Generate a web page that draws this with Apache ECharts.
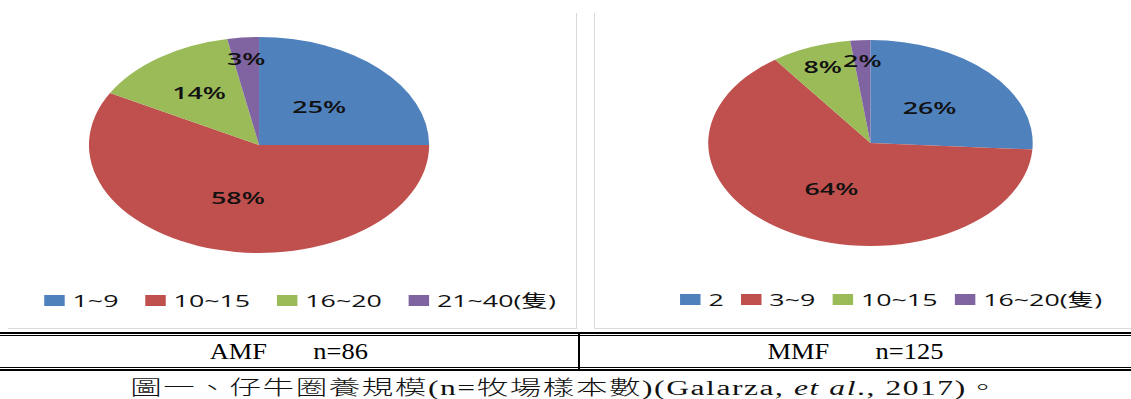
<!DOCTYPE html>
<html>
<head>
<meta charset="utf-8">
<script src="https://cdn.jsdelivr.net/npm/echarts@6/dist/echarts.min.js"></script>
<style>
  html, body { margin: 0; padding: 0; background: #fff; }
  body { width: 1131px; height: 399px; position: relative; overflow: hidden; }
  .panel { position: absolute; top: 13px; height: 315px; border-bottom: 1px solid #d9d9d9; overflow: hidden; }
  #panelL { left: 8px; width: 568px; border-right: 1px solid #d9d9d9; }
  #panelR { left: 594px; width: 545px; border-left: 1px solid #d9d9d9; }
  .chart { position: absolute; left: 0; top: 0; height: 315px; transform-origin: 0 0; }
  .hline { position: absolute; left: 0; width: 1131px; background: #000; }
  .vline { position: absolute; background: #000; }
  .cell { position: absolute; top: 339px; height: 26px; line-height: 26px; text-align: center;
          font-family: "Liberation Serif", serif; font-size: 23px; color: #000; white-space: pre; }
  .cell span { display: inline-block; transform: scaleX(1.15); }
  #caption { position: absolute; left: 0; width: 1131px; top: 375px; height: 26px; line-height: 26px;
             text-align: center; font-family: "Liberation Serif", "Noto Sans CJK TC", serif; font-size: 20px;
             letter-spacing: 1px; color: #111; white-space: pre; font-weight: 300; }
  #caption span { display: inline-block; transform: scaleX(1.575); transform-origin: 50% 50%; }
</style>
</head>
<body>
<div class="panel" id="panelL"><div class="chart" id="chartL"></div></div>
<div class="panel" id="panelR"><div class="chart" id="chartR"></div></div>

<div class="hline" style="top:332px;height:2px"></div>
<div class="hline" style="top:335px;height:1px"></div>
<div class="vline" style="left:578px;top:332px;width:2px;height:38px"></div>
<div class="hline" style="top:367px;height:1px"></div>
<div class="hline" style="top:369px;height:2px"></div>
<div class="cell" id="cellL" style="left:0;width:578px"><span></span></div>
<div class="cell" id="cellR" style="left:580px;width:551px"><span></span></div>
<div id="caption"><span>圖一、仔牛圈養規模(n=牧場樣本數)(Galarza, <i>et al</i>., 2017)。</span></div>

<script>
// Herd size categories (head of calves) and their share of farms, in percent
const amfCategories = ['1~9', '10~15', '16~20', '21~40(隻)'];
const amfShares = [25, 58, 14, 3];
const mmfCategories = ['2', '3~9', '10~15', '16~20(隻)'];
const mmfShares = [26, 64, 8, 2];
const sliceColors = ['#4F81BD', '#C0504D', '#9BBB59', '#8064A2'];
const groupLabels = ['AMF       n=86', 'MMF       n=125'];

// The chart area is drawn at its natural aspect and then widened horizontally
const STRETCH = 1.575;
const FONT = '"Open Sans", "Noto Sans CJK TC", sans-serif';

document.querySelector('#cellL span').textContent = groupLabels[0];
document.querySelector('#cellR span').textContent = groupLabels[1];

// Places each percentage label along the middle angle of its slice,
// further out for the thinner slices.
function labelPlacer(shares, cx, cy, r) {
  const total = shares.reduce((a, b) => a + b, 0);
  return function (params) {
    const i = params.dataIndex;
    let before = 0;
    for (let k = 0; k < i; k++) before += shares[k];
    const mid = (before + shares[i] / 2) / total * 2 * Math.PI;
    const part = shares[i] / total;
    const f = part >= 0.2 ? 0.5 : part >= 0.1 ? 0.6 : 0.8;
    return {
      x: cx + r * f * Math.sin(mid),
      y: cy - r * f * Math.cos(mid),
      align: 'center',
      verticalAlign: 'middle'
    };
  };
}

function buildPie(domId, panelWidth, categories, shares, layout) {
  const dom = document.getElementById(domId);
  dom.style.width = Math.round(panelWidth / STRETCH) + 'px';
  dom.style.transform = 'scaleX(' + STRETCH + ')';
  const chart = echarts.init(dom, null, { renderer: 'svg' });
  chart.setOption({
    animation: false,
    color: sliceColors,
    legend: {
      data: categories,
      left: layout.legendLeft,
      top: layout.legendTop,
      orient: 'horizontal',
      icon: 'rect',
      itemWidth: 13,
      itemHeight: 11,
      itemGap: layout.legendGap,
      selectedMode: false,
      textStyle: { fontFamily: FONT, fontSize: 17, color: '#111' }
    },
    series: [{
      type: 'pie',
      center: [layout.cx, layout.cy],
      radius: layout.r,
      startAngle: 90,
      clockwise: true,
      silent: true,
      itemStyle: { borderWidth: 0 },
      label: {
        show: true,
        position: 'inside',
        formatter: '{c}%',
        fontFamily: FONT,
        fontSize: 17,
        fontWeight: 600,
        color: '#111'
      },
      labelLine: { show: false },
      labelLayout: labelPlacer(shares, layout.cx, layout.cy, layout.r),
      data: categories.map((name, i) => ({ name: name, value: shares[i] }))
    }]
  });
}

buildPie('chartL', 568, amfCategories, amfShares,
  { cx: 159.4, cy: 132, r: 108, legendLeft: 18, legendTop: 274, legendGap: 17 });
buildPie('chartR', 545, mmfCategories, mmfShares,
  { cx: 174.9, cy: 130, r: 103, legendLeft: 49, legendTop: 273, legendGap: 11 });
</script>
</body>
</html>
